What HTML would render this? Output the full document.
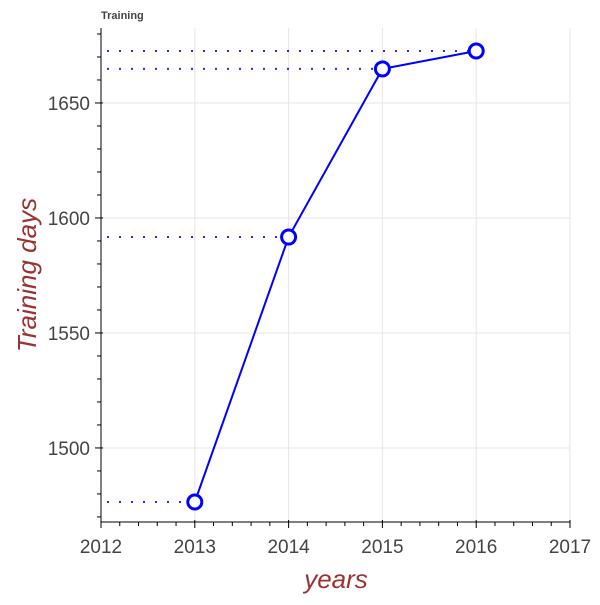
<!DOCTYPE html>
<html><head><meta charset="utf-8"><style>
body{margin:0;background:#fff}
svg text{font-family:"Liberation Sans",sans-serif}
</style></head><body>
<svg id="chart" width="600" height="600" viewBox="0 0 600 600">
<text x="101" y="19" font-size="11" font-weight="bold" fill="#444">Training</text>
<g id="grid"></g>
<g id="axes"></g>
<g id="series"></g>
<text x="336" y="588" font-size="26" font-style="italic" fill="#993333" text-anchor="middle">years</text>
<text transform="translate(36,275) rotate(-90)" font-size="26" font-style="italic" fill="#993333" text-anchor="middle">Training days</text>
</svg>
<script>
const years=[2013,2014,2015,2016];
const days=[1476.5,1591.7,1664.8,1672.6];
const xTicks=[2012,2013,2014,2015,2016,2017];
const yTicks=[1500,1550,1600,1650];
const L=101,R=570,T=28,B=522;
const x0=2012,x1=2017,y0=1467.8,y1=1682.6;
const sx=v=>L+(v-x0)/(x1-x0)*(R-L);
const sy=v=>B-(v-y0)/(y1-y0)*(B-T);
const NS="http://www.w3.org/2000/svg";
function mk(tag,attrs,parent){const e=document.createElementNS(NS,tag);for(const k in attrs)e.setAttribute(k,attrs[k]);parent.appendChild(e);return e;}
const grid=document.getElementById('grid'),axes=document.getElementById('axes'),series=document.getElementById('series');
xTicks.forEach(t=>{
  const g=mk('line',{x1:sx(t),x2:sx(t),y1:T,y2:B,stroke:'#e5e5e5','stroke-width':1},grid);
  
  mk('line',{x1:sx(t),x2:sx(t),y1:B-2,y2:B+6,stroke:'#000','stroke-width':1},axes);
  const tx=mk('text',{x:sx(t),y:B+31,'font-size':19,fill:'#444','text-anchor':'middle'},axes);
  tx.textContent=t;
  
  if(t<x1)for(let i=1;i<5;i++){mk('line',{x1:sx(t+i/5),x2:sx(t+i/5),y1:B,y2:B+4,stroke:'#000'},axes);}
});
yTicks.forEach(t=>{
  const g=mk('line',{x1:L,x2:R,y1:sy(t),y2:sy(t),stroke:'#e5e5e5','stroke-width':1},grid);
  
  mk('line',{x1:L-6,x2:L+2,y1:sy(t),y2:sy(t),stroke:'#000'},axes);
  const tx=mk('text',{x:L-11,y:sy(t)+7,'font-size':19,fill:'#444','text-anchor':'end'},axes);
  tx.textContent=t;
  
});
for(let v=1470;v<=1680;v+=10){if(v%50)mk('line',{x1:L-4,x2:L,y1:sy(v),y2:sy(v),stroke:'#000'},axes);}
mk('line',{x1:L,x2:R,y1:B,y2:B,stroke:'#000'},axes);
mk('line',{x1:L,x2:L,y1:T,y2:B,stroke:'#000'},axes);
years.forEach((yr,i)=>{
  const d=mk('line',{x1:L+6,x2:sx(yr),y1:sy(days[i]),y2:sy(days[i]),stroke:'#0000ff','stroke-width':2,'stroke-dasharray':'2,10','stroke-opacity':0.85},series);
  
});
const pl=mk('polyline',{points:years.map((yr,i)=>sx(yr)+','+sy(days[i])).join(' '),fill:'none',stroke:'#0000ff','stroke-width':2},series);

years.forEach((yr,i)=>{
  const c=mk('circle',{cx:sx(yr),cy:sy(days[i]),r:7,fill:'#fff',stroke:'#0000ff','stroke-width':3},series);
  
});
</script>
</body></html>
